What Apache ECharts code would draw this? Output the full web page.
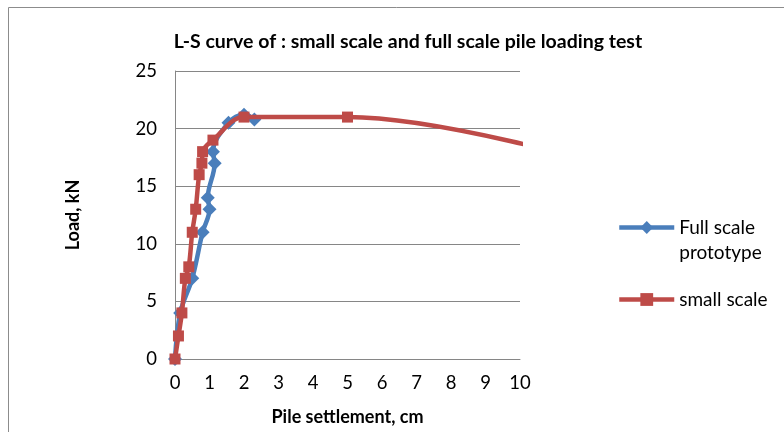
<!DOCTYPE html>
<html>
<head>
<meta charset="utf-8">
<script src="https://cdn.jsdelivr.net/npm/echarts@6/dist/echarts.min.js"></script>
<style>html,body{margin:0;padding:0;background:#fff}#c{width:784px;height:432px}</style>
</head>
<body>
<div id="c"></div>
<script>
var titleText = 'L-S curve of : small scale and full scale pile loading test';
var xName = 'Pile settlement, cm';
var yName = 'Load, kN';
var seriesNames = ['Full scale prototype', 'small scale'];
// Full scale prototype: [settlement cm, load kN]
var fullSettlement = [0, 0.15, 0.5, 0.8, 1.0, 0.95, 1.15, 1.1, 1.55, 2.0, 2.3];
var fullLoad       = [0, 4,    7,   11,  13,  14,   17,   18,  20.5, 21.2, 20.8];
// small scale
var smallSettlement = [0, 0.1, 0.2, 0.3, 0.4, 0.5, 0.6, 0.7, 0.78, 0.8, 1.1, 2.0, 5.0, 12.5];
var smallLoad       = [0, 2,   4,   7,   8,   11,  13,  16,  17,   18,  19,  21,  21,  16.8];
var xTicks = [0, 1, 2, 3, 4, 5, 6, 7, 8, 9, 10];
var yTicks = [0, 5, 10, 15, 20, 25];

function pairs(xs, ys) { return xs.map(function (x, i) { return [x, ys[i]]; }); }

var FONT = 'Lato';
var chart = echarts.init(document.getElementById('c'), null, { renderer: 'canvas' });
chart.setOption({
  animation: false,
  backgroundColor: '#ffffff',
  textStyle: { fontFamily: FONT },
  graphic: [{
    type: 'rect', silent: true,
    shape: { x: 8.5, y: 7.5, width: 900, height: 500 },
    style: { fill: 'none', stroke: '#8c8c8c', lineWidth: 1 }
  }],
  title: {
    text: titleText, left: 403, top: 27, textAlign: 'center',
    textStyle: { fontFamily: FONT, fontWeight: 'bold', fontSize: 19.5, color: '#000' }
  },
  grid: { left: 175, right: 264, top: 71, bottom: 73, containLabel: false },
  legend: [{
    data: [seriesNames[0]], orient: 'vertical', left: 617, top: 190, padding: 0,
    itemWidth: 55, itemHeight: 16,
    lineStyle: { width: 4.5 },
    formatter: function () { return '\nFull scale\nprototype'; },
    textStyle: { fontFamily: FONT, fontSize: 19, color: '#000', lineHeight: 25 }
  }, {
    data: [seriesNames[1]], orient: 'vertical', left: 617, top: 287, padding: 0,
    itemWidth: 55, itemHeight: 16,
    lineStyle: { width: 4.5 },
    textStyle: { fontFamily: FONT, fontSize: 19, color: '#000', lineHeight: 25 }
  }],
  xAxis: {
    type: 'value', min: xTicks[0], max: xTicks[xTicks.length - 1], interval: 1,
    name: xName, nameLocation: 'middle', nameGap: 49,
    nameTextStyle: { fontFamily: FONT, fontWeight: 'bold', fontSize: 18, color: '#000' },
    axisLine: { show: true, onZero: false, lineStyle: { color: '#868686', width: 1 } },
    axisTick: { show: false },
    axisLabel: { fontFamily: FONT, fontSize: 18.5, color: '#000', margin: 15 },
    splitLine: { show: false }
  },
  yAxis: {
    type: 'value', min: yTicks[0], max: yTicks[yTicks.length - 1], interval: 5,
    name: yName, nameLocation: 'middle', nameGap: 93, nameRotate: 90,
    nameTextStyle: { fontFamily: FONT, fontWeight: 'bold', fontSize: 18, color: '#000' },
    axisLine: { show: true, lineStyle: { color: '#868686', width: 1 } },
    axisTick: { show: false },
    axisLabel: { fontFamily: FONT, fontSize: 18.5, color: '#000', margin: 18 },
    splitLine: { show: true, lineStyle: { color: '#868686', width: 1 } }
  },
  series: [{
    name: seriesNames[0], type: 'line', smooth: 0.35,
    data: pairs(fullSettlement, fullLoad),
    symbol: 'diamond', symbolSize: 14, showAllSymbol: true,
    lineStyle: { color: '#4A7EBB', width: 4.5 },
    itemStyle: { color: '#4A7EBB' }, z: 2
  }, {
    name: seriesNames[1], type: 'line', smooth: 0.35,
    data: pairs(smallSettlement, smallLoad),
    symbol: 'rect', symbolSize: 11, showAllSymbol: true,
    lineStyle: { color: '#BE4B48', width: 4.5 },
    itemStyle: { color: '#BE4B48' }, z: 3
  }]
});
</script>
</body>
</html>
